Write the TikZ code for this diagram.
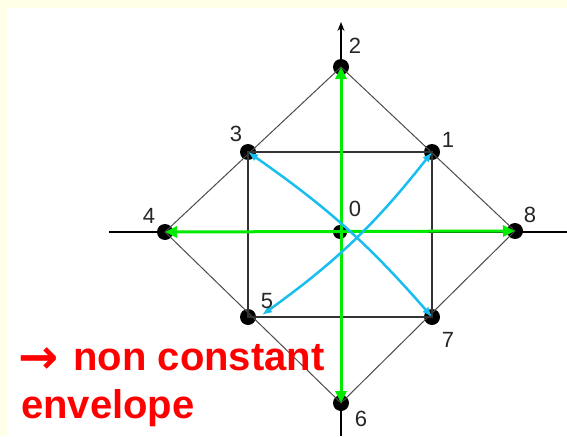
\documentclass[tikz,border=0pt]{standalone}
\usepackage{fontspec}
\setmainfont{Liberation Sans}
\newfontfamily\arrowfont{DejaVu Sans}
\usetikzlibrary{arrows.meta}
\definecolor{cream}{RGB}{255,255,232}
\definecolor{lime}{RGB}{0,235,0}
\definecolor{sky}{RGB}{25,190,240}

\begin{document}
\begin{tikzpicture}[
      x=1pt, y=-1pt,
      dot/.style={circle, fill=black, inner sep=0pt, minimum size=16pt},
      num/.style={font=\fontsize{22}{24}\selectfont, text=black!85, inner sep=0pt},
      note/.style={font=\fontsize{40}{48}\selectfont\bfseries, text=red,
                   anchor=base west, inner sep=0pt},
      axis/.style={line width=1.2pt},
      rim/.style={line width=1pt, black!70},
      box/.style={line width=1.5pt, black!80},
      green/.style={{Triangle[length=12pt,width=11pt]}-{Triangle[length=12pt,width=11pt]},
                    line width=3pt, lime},
      cyan/.style={{Latex[length=10pt,width=8pt]}-{Latex[length=10pt,width=8pt]},
                   line width=2.5pt, sky},
  ]
    % page
    \useasboundingbox (0,0) rectangle (567,436);
    \fill[cream] (0,0) rectangle (567,436);
    \fill[white] (7,8) rectangle (567,436);

    % axes
    \coordinate (xl) at (109,232);
    \coordinate (xr) at (567,232);
    \coordinate (yb) at (341,436);
    \coordinate (yt) at (341,22);
    \draw[axis] (xl) -- (xr);
    \draw[axis, -{Stealth[length=9pt,width=7pt]}] (yb) -- (yt);

    % constellation points
    \node[dot, minimum size=14pt] (p0) at (340,232) {};
    \node[dot] (p1) at (432,152) {};
    \node[dot] (p2) at (341,67) {};
    \node[dot] (p3) at (248,152) {};
    \node[dot] (p4) at (165,232) {};
    \node[dot] (p5) at (248,317) {};
    \node[dot] (p6) at (341,403) {};
    \node[dot] (p7) at (432,317) {};
    \node[dot] (p8) at (515,231) {};

    % outer diamond and inner square
    \draw[rim] (p2.center) -- (p8.center) -- (p6.center) -- (p4.center) -- cycle;
    \draw[box] (p3.center) -- (p1.center) -- (p7.center) -- (p5.center) -- cycle;

    % transitions
    \draw[green] (p4.center) -- (p8.center);
    \draw[green] (p2.center) -- (p6.center);
    \coordinate (c5) at (262,315);
    \draw[cyan] (c5) to[bend right=8] (p1.center);
    \draw[cyan] (p3.center) to[bend left=7] (p7.center);

    % point numbers
    \node[num] (n0) at (355,209) {0};
    \node[num] (n1) at (448,140) {1};
    \node[num] (n2) at (355,46) {2};
    \node[num] (n3) at (236,134) {3};
    \node[num] (n4) at (149,216) {4};
    \node[num] (n5) at (267,301) {5};
    \node[num] (n6) at (361,419) {6};
    \node[num] (n7) at (448,340) {7};
    \node[num] (n8) at (530,215) {8};

    % remark
    \node[note] (rem1) at (18,370)
      {\raisebox{-3pt}{\fontsize{48}{48}\arrowfont\bfseries →}\hspace{15pt}non constant};
    \node[note] (rem2) at (21,418) {envelope};
  \end{tikzpicture}
\end{document}
